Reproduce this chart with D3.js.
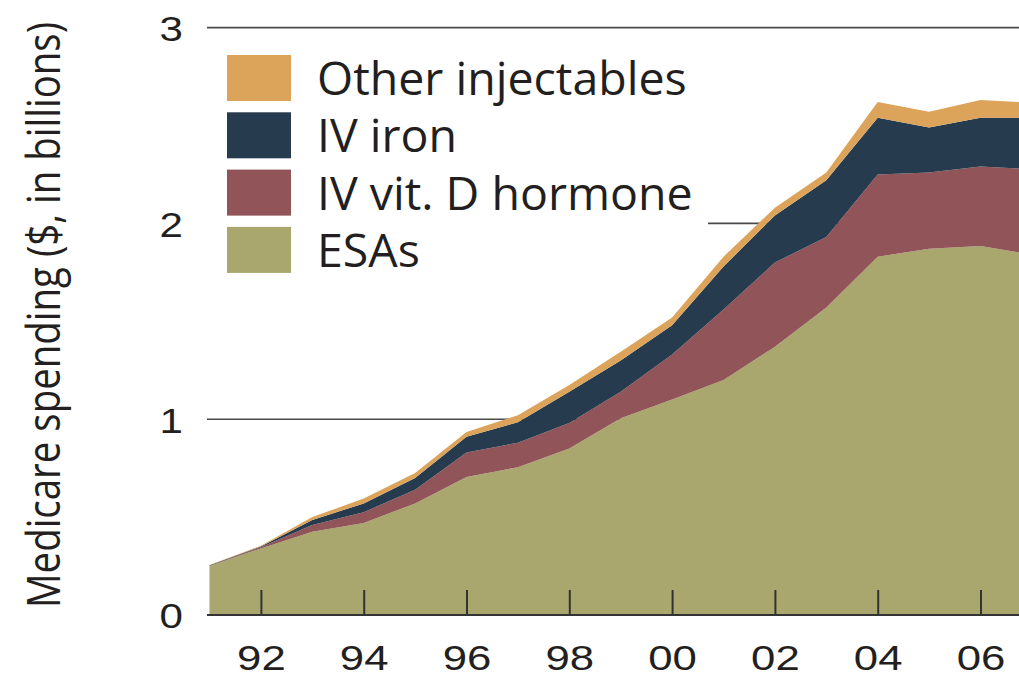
<!DOCTYPE html>
<html>
<head>
<meta charset="utf-8">
<script src="https://cdn.jsdelivr.net/npm/d3@7"></script>
<style>
    html, body { margin: 0; padding: 0; background: #fff; }
    #chart { width: 1019px; height: 676px; }
    svg { display: block; font-family: 'Open Sans', 'Noto Sans', sans-serif; }
</style>
</head>
<body>
<div id="chart"><svg></svg></div>
<script>
// 数据
const years = [1991, 1992, 1993, 1994, 1995, 1996, 1997, 1998, 1999, 2000, 2001, 2002, 2003, 2004, 2005, 2006, 2007];
const esas = [0.250, 0.340, 0.425, 0.470, 0.570, 0.705, 0.755, 0.850, 1.005, 1.100, 1.200, 1.370, 1.570, 1.830, 1.870, 1.885, 1.840];
const vitD = [0.002, 0.006, 0.035, 0.055, 0.070, 0.125, 0.125, 0.130, 0.135, 0.230, 0.360, 0.430, 0.360, 0.420, 0.390, 0.405, 0.437];
const ivIron = [0.002, 0.004, 0.025, 0.045, 0.060, 0.080, 0.105, 0.160, 0.160, 0.150, 0.220, 0.240, 0.290, 0.290, 0.230, 0.250, 0.263];
const otherInj = [0.002, 0.004, 0.015, 0.025, 0.025, 0.025, 0.035, 0.035, 0.045, 0.040, 0.050, 0.040, 0.040, 0.080, 0.080, 0.090, 0.077];
const seriesKeys = ['ESAs', 'IV vit. D hormone', 'IV iron', 'Other injectables'];
const seriesColors = ['#a9a66e', '#905459', '#273b4f', '#dca35b'];
const xTicks = [1992, 1994, 1996, 1998, 2000, 2002, 2004, 2006];
const yTicks = [0, 1, 2, 3];
const yTitle = 'Medicare spending ($, in billions)';

class AreaBox {
    constructor(el) {
        this.$el = el;
        this.realW = 1019;
        this.realH = 676;
        this.init();
    }
    init() {
        this.renderSvg();
        this.calcScale();
        this.renderGrid();
        this.renderLegend();
        this.renderArea();
        this.renderAxis();
        this.renderTitle();
    }
    renderSvg() {
        this.svg = d3.select(this.$el).select('svg')
            .attr('width', this.realW)
            .attr('height', this.realH);
        this.chartGroup = this.svg.append('g').attr('class', 'chart-source-group');
    }
    calcScale() {
        this.x = d3.scaleLinear().domain([1991, 2007]).range([209.5, 209.5 + 16 * 51.4]);
        this.y = d3.scaleLinear().domain([0, 3]).range([615, 27.6]);
    }
    renderGrid() {
        // 横向网格线
        this.chartGroup.append('g')
            .selectAll('line')
            .data(yTicks.filter(d => d > 0))
            .join('line')
            .attr('x1', 207)
            .attr('x2', this.realW)
            .attr('y1', d => this.y(d))
            .attr('y2', d => this.y(d))
            .attr('stroke', '#4a4a4a')
            .attr('stroke-width', 1.6);
    }
    renderArea() {
        let table = years.map((yr, i) => ({
            year: yr,
            'ESAs': esas[i],
            'IV vit. D hormone': vitD[i],
            'IV iron': ivIron[i],
            'Other injectables': otherInj[i]
        }));
        let stacked = d3.stack().keys(seriesKeys)(table);
        let area = d3.area()
            .x(d => this.x(d.data.year))
            .y0(d => this.y(d[0]))
            .y1(d => this.y(d[1]));
        this.chartGroup.append('g')
            .selectAll('path')
            .data(stacked)
            .join('path')
            .attr('fill', (d, i) => seriesColors[i])
            .attr('d', area);
    }
    renderAxis() {
        // x轴 刻度朝上
        let xAxis = d3.axisBottom(this.x)
            .tickValues(xTicks)
            .tickSizeInner(-25)
            .tickSizeOuter(0)
            .tickPadding(0)
            .tickFormat(d => String(d).slice(2));
        let gx = this.chartGroup.append('g')
            .attr('transform', `translate(0,${this.y(0)})`)
            .call(xAxis);
        gx.select('.domain').remove();
        gx.selectAll('.tick line').attr('stroke', '#333').attr('stroke-width', 2);
        gx.selectAll('.tick text')
            .attr('fill', '#231f20')
            .attr('font-size', 35)
            .attr('y', 0)
            .attr('dy', 0)
            .attr('transform', 'translate(0,55) scale(1.25,1)');
        gx.append('line')
            .attr('x1', 207)
            .attr('x2', this.realW)
            .attr('stroke', '#333')
            .attr('stroke-width', 2.2);

        // y轴 只有文字
        let yAxis = d3.axisLeft(this.y)
            .tickValues(yTicks)
            .tickSize(0)
            .tickPadding(0)
            .tickFormat(d3.format('d'));
        let gy = this.chartGroup.append('g')
            .attr('transform', 'translate(183,0)')
            .call(yAxis);
        gy.select('.domain').remove();
        gy.selectAll('.tick text')
            .attr('fill', '#231f20')
            .attr('font-size', 36)
            .attr('x', 0)
            .attr('dy', '0.36em')
            .attr('transform', 'scale(1.17,1)');
    }
    renderLegend() {
        let items = seriesKeys.map((k, i) => ({ key: k, color: seriesColors[i] })).reverse();
        let lg = this.chartGroup.append('g').attr('class', 'legend');
        lg.append('rect')
            .attr('x', 200)
            .attr('y', 42)
            .attr('width', 508)
            .attr('height', 240)
            .attr('fill', '#fff');
        let row = lg.selectAll('g.row')
            .data(items)
            .join('g')
            .attr('class', 'row')
            .attr('transform', (d, i) => `translate(227,${55 + i * 57.3})`);
        row.append('rect')
            .attr('width', 64)
            .attr('height', 46)
            .attr('fill', d => d.color);
        row.append('text')
            .attr('x', 90)
            .attr('y', 40)
            .attr('font-size', 46.5)
            .attr('fill', '#231f20')
            .text(d => d.key);
    }
    renderTitle() {
        // 竖排标题，按实际宽度压缩到 586px
        let t = this.chartGroup.append('text')
            .attr('text-anchor', 'middle')
            .attr('font-size', 46)
            .attr('fill', '#231f20')
            .text(yTitle);
        let w = t.node().getComputedTextLength() || 586;
        t.attr('transform', `translate(60,315) rotate(-90) scale(${586 / w},1)`);
    }
}

new AreaBox(document.getElementById('chart'));
</script>
</body>
</html>
